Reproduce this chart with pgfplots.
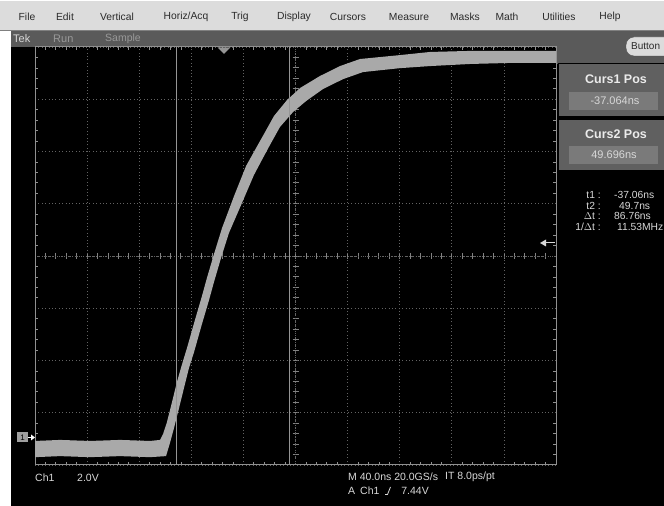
\documentclass[border=0pt]{standalone}
\usepackage{pgfplots}
\pgfplotsset{compat=1.18}
\usepackage{fontspec}
\setmainfont{Liberation Sans}
\newfontfamily\scr{Liberation Sans}
\definecolor{menubg}{HTML}{DCDCDC}
\definecolor{menutx}{HTML}{2A2A2A}
\definecolor{statbg}{HTML}{5A5A5A}
\definecolor{boxbg}{HTML}{606060}
\definecolor{fieldbg}{HTML}{7A7A7A}
\definecolor{gridc}{HTML}{636363}
\definecolor{frame}{HTML}{909090}
\definecolor{trace}{HTML}{A9A9A9}
\definecolor{cur}{HTML}{959595}
\definecolor{scrtx}{HTML}{D8D8D8}
\begin{document}
\begin{tikzpicture}
\useasboundingbox (0,0) rectangle (664pt,506pt);
\begin{scope}[x=1pt,y=-1pt,yshift=506pt]
  % backgrounds
  \fill[black] (0,0) rectangle (664,506);
  \fill[white] (0,30) rectangle (11,506);
  \fill[menubg] (0,0) rectangle (664,30.5);
  \draw[white,line width=1pt] (0,0.5)--(664,0.5);
  \draw[gray,line width=0.8pt] (0,30.3)--(664,30.3);
  \fill[statbg] (11,31) rectangle (664,47);
  \fill[statbg] (557,47) rectangle (664,64);
  % menu
  \begin{scope}[every node/.style={font=\fontsize{10.3}{10}\selectfont,text=menutx}]
    \node at (27,17) {File};
    \node at (65,17) {Edit};
    \node at (117,17) {Vertical};
    \node at (186,17) {Horiz/Acq};
    \node at (240,17) {Trig};
    \node at (294,17) {Display};
    \node at (348,17) {Cursors};
    \node at (409,17) {Measure};
    \node at (465,17) {Masks};
    \node at (507,17) {Math};
    \node at (559,17) {Utilities};
    \node at (610,17) {Help};
  \end{scope}
  % status bar
  \node[font=\scr\fontsize{11}{10}\selectfont,text=scrtx,anchor=west,inner sep=0pt] at (13,39) {Tek};
  \node[font=\scr\fontsize{11}{10}\selectfont,text=gray!80,anchor=west,inner sep=0pt] at (53,39) {Run};
  \node[font=\scr\fontsize{10.5}{10}\selectfont,text=gray!80,anchor=west,inner sep=0pt] at (105,39) {Sample};
  % button
  \filldraw[fill=menubg,draw=gray!60!black,rounded corners=8pt] (626,37) rectangle (680,56);
  \node[font=\fontsize{10}{10}\selectfont,text=menutx,anchor=west,inner sep=0pt] at (631,46.5) {Button};
  % cursor boxes
  \filldraw[fill=boxbg,draw=black,line width=1pt] (558,64) rectangle (666,117);
  \fill[fieldbg] (569,92) rectangle (658,110);
  \node[font=\bfseries\fontsize{12.5}{12}\selectfont,text=white!92!black] at (616,79) {Curs1 Pos};
  \node[font=\scr\fontsize{11}{10}\selectfont,text=scrtx] at (615,101) {-37.064ns};
  \filldraw[fill=boxbg,draw=black,line width=1pt] (558,120) rectangle (666,171);
  \fill[fieldbg] (569,146) rectangle (658,164);
  \node[font=\bfseries\fontsize{12.5}{12}\selectfont,text=white!92!black] at (616,134) {Curs2 Pos};
  \node[font=\scr\fontsize{11}{10}\selectfont,text=scrtx] at (614,155) {49.696ns};
  % measurement readout
  \begin{scope}[every node/.style={font=\scr\fontsize{10.3}{10}\selectfont,text=scrtx,inner sep=0pt}]
    \node[anchor=east] at (601,195) {t1 :};
    \node[anchor=east] at (601,205.5) {t2 :};
    \node[anchor=east] at (601,216) {$\Delta$t :};
    \node[anchor=east] at (601,226.5) {1/$\Delta$t :};
    \node[anchor=west] at (614,195) {-37.06ns};
    \node[anchor=west] at (619,205.5) {49.7ns};
    \node[anchor=west] at (614,216) {86.76ns};
    \node[anchor=east] at (663.5,226.5) {11.53MHz};
  \end{scope}
  % bottom readouts
  \begin{scope}[every node/.style={font=\scr\fontsize{10.5}{10}\selectfont,text=scrtx,inner sep=0pt,anchor=west}]
    \node at (35,478) {Ch1};
    \node at (77,478) {2.0V};
    \node at (348,477) {M 40.0ns 20.0GS/s};
    \node at (445,477) {IT 8.0ps/pt};
    \node at (348,491) {A};
    \node at (360,491) {Ch1};
    \node[anchor=east] at (429,491) {7.44V};
  \end{scope}
  \draw[scrtx,line width=0.8pt] (385,494.5)--(387.5,494.5)--(390.5,487);
  % centre graticule lines with ticks
  \draw[gridc,line width=0.8pt,dash pattern=on 1pt off 1.2pt] (35,256)--(556,256);
  \draw[gridc,line width=0.8pt,dash pattern=on 1pt off 1.2pt] (295.5,47)--(295.5,465);
  \foreach \i in {1,...,49} \draw[gridc!80!white,line width=0.8pt] ({35+\i*10.42},253) -- ({35+\i*10.42},259);
  \foreach \j in {1,...,39} \draw[gridc!80!white,line width=0.8pt] (292.5,{47+\j*10.45}) -- (298.5,{47+\j*10.45});
\end{scope}

\begin{axis}[at={(35pt,41pt)}, anchor=south west, scale only axis,
  width=521pt, height=418pt,
  xmin=-146, xmax=254, ymin=-1.07, ymax=14.93,
  xtick={-146,-106,-66,-26,14,54,94,134,174,214,254},
  ytick={-1.07,0.93,2.93,4.93,6.93,8.93,10.93,12.93,14.93},
  xmajorticks=false, ymajorticks=false,
  xmajorgrids=true, ymajorgrids=true,
  major grid style={draw=gridc, line width=0.8pt, dash pattern=on 1pt off 2.4pt},
  minor x tick num=4, minor y tick num=4,
  minor tick length=3pt, tick align=inside,
  minor tick style={draw=frame, line width=0.7pt},
  axis line style={draw=frame, line width=1pt},
]
\addplot[draw=none, fill=trace] coordinates {
 (-146,-0.15) (-126.8,-0.11) (-103.8,-0.15) (-80.7,-0.11) (-57.7,-0.15) (-50.0,-0.11)
 (-47.7,0.11) (-44.7,0.57) (-40.8,1.34) (-37.0,2.11) (-33.1,2.79) (-29.3,3.41)
 (-23.2,4.48) (-17.8,5.40) (-14.0,6.09) (-8.6,7.00) (-2.4,8.00) (6.8,9.22)
 (16.0,10.37) (23.7,11.06) (29.8,11.60) (37.5,12.29) (47.5,12.90) (57.5,13.36)
 (72.8,13.82) (88.2,14.20) (103.5,14.47) (134.2,14.62) (157.3,14.74) (188.0,14.78)
 (218.7,14.78) (254,14.78)
 (254,14.32) (218.7,14.32) (188.0,14.28) (157.3,14.20) (134.2,14.12) (105.8,13.97)
 (90.5,13.70) (75.1,13.32) (62.1,12.86) (52.1,12.44) (42.1,11.87) (34.4,11.18)
 (29.0,10.68) (22.1,10.03) (12.2,8.88) (2.9,7.81) (-3.2,6.85) (-8.6,5.93)
 (-12.4,5.24) (-17.8,4.33) (-23.9,3.25) (-27.8,2.64) (-31.6,1.88) (-35.4,1.11)
 (-39.3,0.34) (-42.4,-0.23) (-45.4,-0.73) (-57.7,-0.77) (-80.7,-0.73) (-103.8,-0.77)
 (-126.8,-0.73) (-146,-0.77)
} -- cycle;
\addplot[cur, line width=1.1pt] coordinates {(-37.06,-1.07) (-37.06,14.93)};
\addplot[cur, line width=1.1pt] coordinates {(49.7,-1.07) (49.7,14.93)};
\end{axis}

\begin{scope}[x=1pt,y=-1pt,yshift=506pt]
  % trigger position marker
  \fill[cur] (217.5,47.5)--(230.5,47.5)--(224,54)--cycle;
  % trigger level arrow
  \draw[scrtx,line width=1pt] (555,243)--(545,243);
  \fill[scrtx] (540,243)--(546,239.5)--(546,246.5)--cycle;
  % ground marker
  \fill[gray!75] (17,432.5) rectangle (28,442.5);
  \node[font=\scr\fontsize{8}{8}\selectfont,text=black,inner sep=0pt] at (22.5,437.5) {1};
  \draw[white,line width=1pt] (28,437.5)--(33,437.5);
  \fill[white] (35,437.5)--(31,434.5)--(31,440.5)--cycle;
\end{scope}
\end{tikzpicture}
\end{document}
